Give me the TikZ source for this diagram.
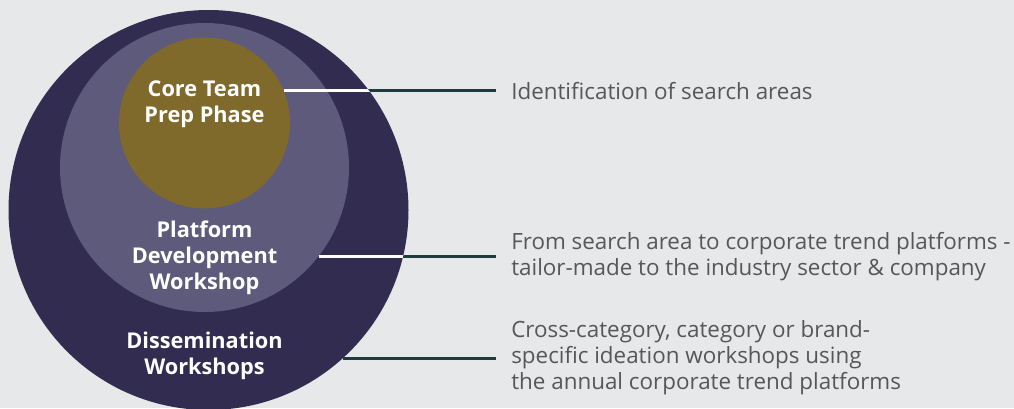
\documentclass[tikz,border=0pt]{standalone}
\usepackage{fontspec}
\setmainfont{Open Sans}

\definecolor{bgc}{HTML}{E7E8EA}
\definecolor{outerc}{HTML}{312C50}
\definecolor{midc}{HTML}{5D5A7B}
\definecolor{corec}{HTML}{7F6A2C}
\definecolor{leadc}{HTML}{1E3B3F}
\definecolor{notec}{HTML}{575757}

\tikzset{
  ring/.style={circle, inner sep=0pt, draw=none},
  ringlabel/.style={text=white, font=\fontsize{16.3}{19.5}\selectfont\bfseries, align=center},
  note/.style={anchor=west, text=notec, font=\fontsize{16.8}{19.5}\selectfont, align=left, inner xsep=11.25pt, inner ysep=0pt},
  lead/.style={draw=leadc, line width=2.2pt}
}

\begin{document}
\begin{tikzpicture}[x=0.75pt,y=-0.75pt]
            \fill[bgc] (0,0) rectangle (1014,408);
            \useasboundingbox (0,0) rectangle (1014,408);

            % three nested circles
            \node[ring, fill=outerc, minimum size=300pt] (dissem) at (208.5,210) {};
            \node[ring, fill=midc, minimum size=216.75pt] (platform) at (204.5,167.5) {};
            \node[ring, fill=corec, minimum size=128.25pt] (core) at (204.5,123) {};

            \node[ringlabel] (coretxt) at (204.5,104) {Core Team\\Prep Phase};
            \node[ringlabel] (platformtxt) at (204.5,258) {Platform\\Development\\Workshop};
            \node[ringlabel] (dissemtxt) at (204.5,356) {Dissemination\\Workshops};

            % notes on the right
            \node[note] (corenote) at (496,91) {Identification of search areas};
            \node[note] (platformnote) at (496,257) {From search area to corporate trend platforms -\\tailor-made to the industry sector \& company};
            \node[note] (dissemnote) at (496,358) {Cross-category, category or brand-\\specific ideation workshops using\\the annual corporate trend platforms};

            \draw[lead] (core.22) -- (core.22 -| corenote.west);
            \draw[lead] (platform.-38) -- (platform.-38 -| platformnote.west);
            \draw[lead] (dissem.-48) -- (dissem.-48 -| dissemnote.west);

            % white inside the big circle
            \begin{scope}
                \clip (dissem.center) circle (150pt);
                \draw[lead, draw=white] (core.22) -- (core.22 -| corenote.west);
                \draw[lead, draw=white] (platform.-38) -- (platform.-38 -| platformnote.west);
            \end{scope}
        \end{tikzpicture}
\end{document}
